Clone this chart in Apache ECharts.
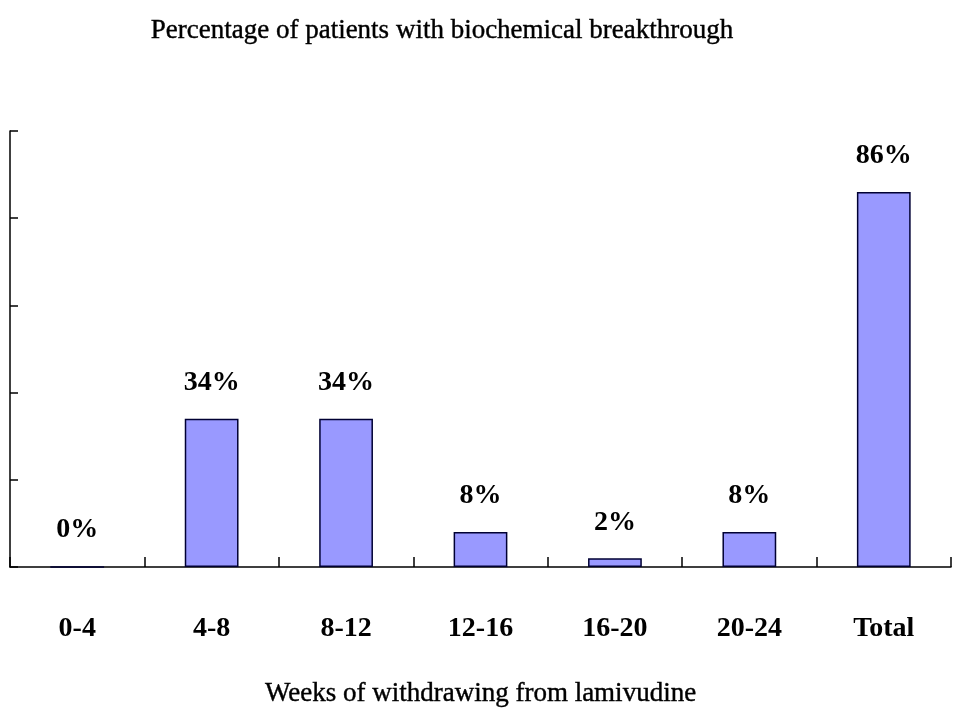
<!DOCTYPE html>
<html>
<head>
<meta charset="utf-8">
<script src="https://cdn.jsdelivr.net/npm/echarts@6/dist/echarts.min.js"></script>
<style>html,body{margin:0;padding:0;background:#fff}#c{width:960px;height:720px}</style>
</head>
<body>
<div id="c"></div>
<script>
var categories = ['0-4', '4-8', '8-12', '12-16', '16-20', '20-24', 'Total'];
var values = [0, 34, 34, 8, 2, 8, 86];
var yTicks = [0, 20, 40, 60, 80, 100];
var titleText = 'Percentage of patients with biochemical breakthrough';
var xName = 'Weeks of withdrawing from lamivudine';

var FONT = '"Liberation Serif", "Times New Roman", serif';
var chart = echarts.init(document.getElementById('c'), null, {renderer: 'canvas'});
chart.setOption({
  backgroundColor: '#ffffff',
  animation: false,
  title: {
    text: titleText,
    left: 437, top: 12, textAlign: 'center',
    textStyle: {fontFamily: FONT, fontSize: 27, fontWeight: 'normal', color: '#000', textBorderColor: '#000', textBorderWidth: 0.4}
  },
  grid: {left: 10, right: 9, top: 131, bottom: 153, containLabel: false, outerBoundsMode: 'none'},
  xAxis: {
    type: 'category',
    data: categories,
    name: xName,
    nameLocation: 'middle',
    nameGap: 113,
    nameTextStyle: {fontFamily: FONT, fontSize: 27, color: '#000', textBorderColor: '#000', textBorderWidth: 0.4},
    axisLine: {lineStyle: {color: '#000', width: 1.5}},
    axisTick: {show: true, inside: true, length: 10, lineStyle: {color: '#000', width: 1.5}},
    axisLabel: {margin: 48, fontFamily: FONT, fontSize: 28, fontWeight: 'bold', color: '#000'}
  },
  yAxis: {
    type: 'value',
    min: yTicks[0], max: yTicks[yTicks.length - 1], interval: yTicks[1] - yTicks[0],
    axisLine: {show: true, lineStyle: {color: '#000', width: 1.5}},
    axisTick: {show: true, inside: true, length: 8, lineStyle: {color: '#000', width: 1.5}},
    axisLabel: {show: false},
    splitLine: {show: false}
  },
  series: [{
    type: 'bar',
    data: values,
    barWidth: '40%',
    itemStyle: {color: '#9999ff', borderColor: '#000033', borderWidth: 1.5},
    label: {
      show: true, position: 'top', distance: 22,
      formatter: function (p) { return p.value + '%'; },
      fontFamily: FONT, fontSize: 28, fontWeight: 'bold', color: '#000'
    }
  }]
});
</script>
</body>
</html>
